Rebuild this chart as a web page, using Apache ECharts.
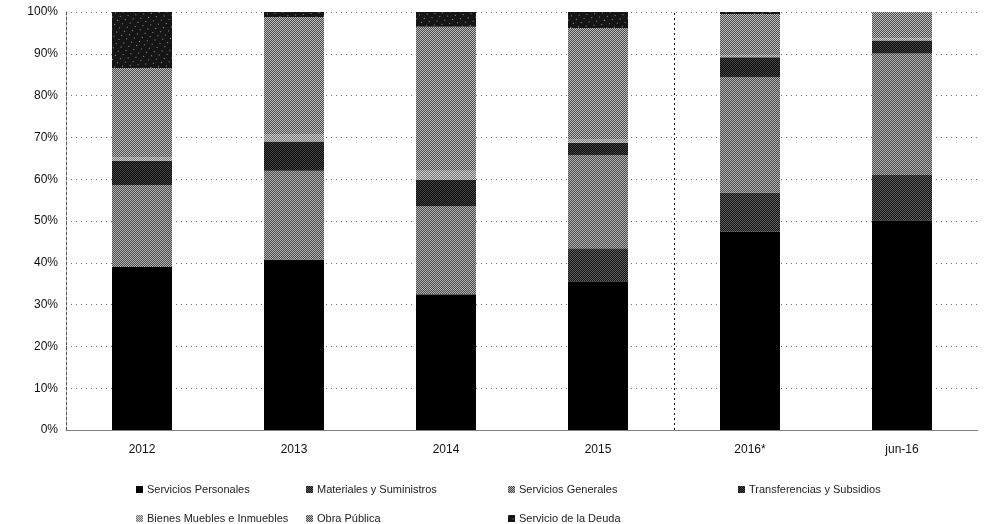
<!DOCTYPE html>
<html>
<head>
<meta charset="utf-8">
<script src="https://cdn.jsdelivr.net/npm/echarts@6/dist/echarts.min.js"></script>
<style>
  html, body { margin: 0; padding: 0; background: #ffffff; }
  #chart { width: 985px; height: 524px; }
</style>
</head>
<body>
<div id="chart"></div>
<script>
// Composición del gasto por capítulo (% del total)
const categories = ['2012', '2013', '2014', '2015', '2016*', 'jun-16'];

const serviciosPersonales   = [39.0, 40.8, 32.5, 35.6, 47.4, 50.2];
const materialesSuministros = [0.0, 0.0, 0.0, 7.9, 9.4, 10.8];
const serviciosGenerales    = [19.6, 21.2, 21.0, 22.3, 27.6, 29.1];
const transferencias        = [5.8, 7.0, 6.3, 2.9, 4.8, 3.1];
const bienesMuebles         = [0.8, 1.8, 2.2, 0.8, 0.5, 0.5];
const obraPublica           = [21.4, 28.0, 34.5, 26.7, 9.8, 6.3];
const servicioDeuda         = [13.4, 1.2, 3.5, 3.8, 0.5, 0.0];

const yTicks = [0, 10, 20, 30, 40, 50, 60, 70, 80, 90, 100];

const seriesNames = [
  'Servicios Personales',
  'Materiales y Suministros',
  'Servicios Generales',
  'Transferencias y Subsidios',
  'Bienes Muebles e Inmuebles',
  'Obra Pública',
  'Servicio de la Deuda'
];
const seriesValues = [
  serviciosPersonales, materialesSuministros, serviciosGenerales,
  transferencias, bienesMuebles, obraPublica, servicioDeuda
];

// Tramas de relleno en escala de grises
function checker(color) {
  return {
    symbol: 'rect', symbolSize: 1, color: color,
    dashArrayX: [[1, 1], [0, 1, 1, 0]], dashArrayY: [1, 0], rotation: 0
  };
}
const fills = [
  { color: '#000000' },
  { color: '#5e5e5e', decal: checker('rgba(0,0,0,0.8)') },
  { color: '#b4b4b4', decal: checker('rgba(0,0,0,0.6)') },
  { color: '#444444', decal: checker('rgba(0,0,0,0.85)') },
  { color: '#d2d2d2', decal: checker('rgba(0,0,0,0.45)') },
  { color: '#bdbdbd', decal: checker('rgba(0,0,0,0.6)') },
  { color: '#151515', decal: { symbol: 'rect', symbolSize: 1, color: 'rgba(255,255,255,0.55)', dashArrayX: [1, 5], dashArrayY: [1, 4], rotation: 0.6 } }
];

const font = '"Liberation Sans", Arial, sans-serif';

const series = seriesNames.map((name, i) => ({
  name: name,
  type: 'bar',
  stack: 'total',
  barWidth: 60,
  itemStyle: Object.assign({}, fills[i]),
  data: seriesValues[i]
}));

// Línea vertical que separa los años cerrados de los estimados
series.push({
  name: 'separador',
  type: 'line',
  xAxisIndex: 1,
  data: [[4, 0]],
  symbol: 'none',
  silent: true,
  lineStyle: { opacity: 0 },
  markLine: {
    silent: true,
    symbol: 'none',
    label: { show: false },
    lineStyle: { color: '#111111', type: [2, 3], width: 1 },
    data: [{ xAxis: 4 }]
  }
});

// Leyenda en dos filas, una entrada por componente
const legendPos = [
  { left: 131, top: 479 },
  { left: 301, top: 479 },
  { left: 503, top: 479 },
  { left: 733, top: 479 },
  { left: 131, top: 508 },
  { left: 301, top: 508 },
  { left: 503, top: 508 }
];
const legends = seriesNames.map((name, i) => ({
  data: [name],
  left: legendPos[i].left,
  top: legendPos[i].top,
  orient: 'horizontal',
  itemWidth: 7,
  itemHeight: 7,
  itemGap: 4,
  icon: 'rect',
  selectedMode: false,
  textStyle: { fontFamily: font, fontSize: 11, color: '#222222', padding: [0, 0, 0, -1] }
}));

const chart = echarts.init(document.getElementById('chart'), null, { renderer: 'canvas' });
chart.setOption({
  animation: false,
  backgroundColor: '#ffffff',
  textStyle: { fontFamily: font },
  grid: { left: 66, right: 7, top: 12, bottom: 94, containLabel: false },
  legend: legends,
  xAxis: [
    {
      type: 'category',
      data: categories,
      axisLine: { show: true, lineStyle: { color: '#808080', width: 1 } },
      axisTick: { show: false },
      axisLabel: { color: '#111111', fontFamily: font, fontSize: 12, margin: 14 }
    },
    { type: 'value', min: 0, max: 6, show: false }
  ],
  yAxis: {
    type: 'value',
    min: yTicks[0],
    max: yTicks[yTicks.length - 1],
    interval: 10,
    axisLine: { show: true, lineStyle: { color: '#555555', type: [3, 2], width: 1 } },
    axisTick: { show: false },
    axisLabel: { color: '#111111', fontFamily: font, fontSize: 12, margin: 8, formatter: '{value}%' },
    splitLine: { show: true, lineStyle: { color: '#6f6f6f', type: [1, 4], width: 1 } }
  },
  series: series
});
</script>
</body>
</html>
